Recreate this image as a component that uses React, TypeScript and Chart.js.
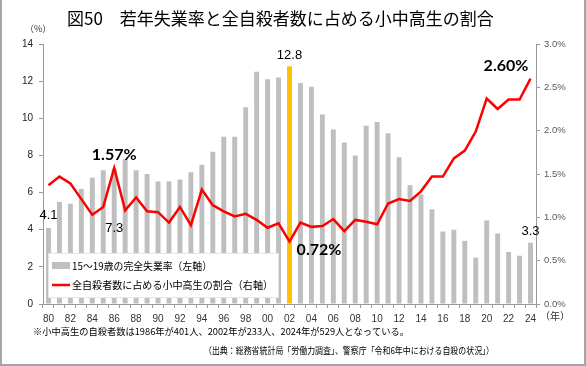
import React, { useEffect, useRef } from "react";
import { Chart, registerables } from "chart.js";
Chart.register(...registerables);

const years = [
  "80","81","82","83","84","85","86","87","88","89",
  "90","91","92","93","94","95","96","97","98","99",
  "00","01","02","03","04","05","06","07","08","09",
  "10","11","12","13","14","15","16","17","18","19",
  "20","21","22","23","24",
];

// 15～19歳の完全失業率（%）左軸
const unemployment = [
  4.1, 5.5, 5.4, 6.2, 6.8, 7.2, 7.3, 7.8, 7.2, 7.0,
  6.6, 6.6, 6.7, 7.1, 7.5, 8.2, 9.0, 9.0, 10.6, 12.5,
  12.1, 12.2, 12.8, 11.9, 11.7, 10.2, 9.4, 8.7, 8.0, 9.6,
  9.8, 9.2, 7.9, 6.4, 5.9, 5.1, 3.9, 4.0, 3.4, 2.5,
  4.5, 3.8, 2.8, 2.6, 3.3,
];

// 全自殺者数に占める小中高生の割合（%）右軸
const studentShare = [
  1.37, 1.47, 1.39, 1.21, 1.03, 1.12, 1.57, 1.08, 1.23, 1.07,
  1.06, 0.94, 1.12, 0.91, 1.32, 1.14, 1.07, 1.01, 1.04, 0.97,
  0.88, 0.93, 0.72, 0.94, 0.89, 0.90, 0.98, 0.84, 0.97, 0.95,
  0.92, 1.16, 1.21, 1.19, 1.30, 1.47, 1.47, 1.68, 1.77, 1.99,
  2.37, 2.25, 2.36, 2.36, 2.60,
];

const highlightIndex = 22; // 2002

const TITLE = "図50　若年失業率と全自殺者数に占める小中高生の割合";
const LEGEND_BAR = "15～19歳の完全失業率（左軸）";
const LEGEND_LINE = "全自殺者数に占める小中高生の割合（右軸）";
const NOTE1 = "※小中高生の自殺者数は1986年が401人、2002年が233人、2024年が529人となっている。";
const NOTE2 = "（出典：総務省統計局「労働力調査」、警察庁「令和6年中における自殺の状況」）";

const JP = '"Noto Sans CJK JP", sans-serif';
const NUM = '"Liberation Sans", Arial, sans-serif';
const BOLDNUM = 'Lato, "Liberation Sans", sans-serif';

const BAR_GRAY = "#BFBFBF";
const BAR_ORANGE = "#FFC000";
const LINE_RED = "#FF0000";

export default function App() {
  const ref = useRef<HTMLCanvasElement | null>(null);

  useEffect(() => {
    if (!ref.current) return;

    const overlay = {
      id: "overlay",
      beforeDraw(chart: any) {
        const c = chart.ctx;
        c.save();
        c.fillStyle = "#fff";
        c.fillRect(0, 0, chart.width, chart.height);
        c.restore();
      },
      afterDatasetsDraw(chart: any) {
        const c = chart.ctx;
        const xs = chart.scales.x;
        const yl = chart.scales.y;
        const yr = chart.scales.y1;
        c.save();

        // legend box
        c.fillStyle = "#fff";
        c.fillRect(48, 253, 230, 44);
        c.strokeStyle = "#e6e6e6";
        c.lineWidth = 1;
        c.strokeRect(48.5, 253.5, 230, 44);
        c.fillStyle = BAR_GRAY;
        c.fillRect(52, 262, 18, 7);
        c.strokeStyle = LINE_RED;
        c.lineWidth = 2.5;
        c.beginPath();
        c.moveTo(52, 285);
        c.lineTo(70, 285);
        c.stroke();
        c.fillStyle = "#000";
        c.font = `10.5px ${JP}`;
        c.textBaseline = "middle";
        c.textAlign = "left";
        c.fillText(LEGEND_BAR, 72, 266, 140);
        c.fillText(LEGEND_LINE, 72, 285, 201);

        // annotations
        c.textAlign = "center";
        c.font = `13px ${NUM}`;
        c.fillStyle = "#000";
        c.fillText(String(unemployment[0]), xs.getPixelForValue(0), yl.getPixelForValue(unemployment[0]) - 12);
        c.fillText(String(unemployment[6]), xs.getPixelForValue(6), 228);
        c.fillText(String(unemployment[22]), xs.getPixelForValue(22), 55);
        c.fillText(String(unemployment[44]), xs.getPixelForValue(44), 231);

        c.font = `bold 16px ${BOLDNUM}`;
        c.fillText(studentShare[6].toFixed(2) + "%", xs.getPixelForValue(6), yr.getPixelForValue(studentShare[6]) - 13);
        c.fillText(studentShare[22].toFixed(2) + "%", 319, 250);
        c.fillText(studentShare[44].toFixed(2) + "%", 506, 66);
        c.restore();
      },
      afterDraw(chart: any) {
        const c = chart.ctx;
        c.save();
        c.fillStyle = "#000";
        c.textBaseline = "middle";
        c.textAlign = "left";
        c.font = `17px ${JP}`;
        c.fillText(TITLE, 67, 19, 450);

        c.font = `9px ${JP}`;
        c.fillStyle = "#333";
        c.fillText("（%）", 25, 29);
        c.font = `10px ${JP}`;
        c.fillText("（年）", 540, 316);

        c.fillStyle = "#000";
        c.font = `9.5px ${JP}`;
        c.fillText(NOTE1, 33, 331, 376);
        c.textAlign = "right";
        c.fillText(NOTE2, 494, 350, 290);

        // frame
        c.strokeStyle = "#a6a6a6";
        c.lineWidth = 2;
        c.beginPath();
        c.moveTo(1, 0);
        c.lineTo(1, 365);
        c.lineTo(585, 365);
        c.lineTo(585, 0);
        c.stroke();
        c.restore();
      },
    };

    const chart = new Chart(ref.current, {
      type: "bar",
      data: {
        labels: years,
        datasets: [
          {
            type: "line",
            label: LEGEND_LINE,
            data: studentShare,
            yAxisID: "y1",
            borderColor: LINE_RED,
            backgroundColor: LINE_RED,
            borderWidth: 2.5,
            pointRadius: 0,
            tension: 0,
            order: 0,
          } as any,
          {
            type: "bar",
            label: LEGEND_BAR,
            data: unemployment,
            yAxisID: "y",
            backgroundColor: unemployment.map((_, i) => (i === highlightIndex ? BAR_ORANGE : BAR_GRAY)),
            barPercentage: 0.45,
            categoryPercentage: 1,
            order: 1,
          },
        ],
      },
      options: {
        responsive: false,
        animation: false,
        layout: { padding: { left: 8, right: 10, top: 44, bottom: 42 } },
        plugins: {
          legend: { display: false },
          tooltip: { enabled: false },
          title: { display: false },
        },
        scales: {
          x: {
            offset: true,
            grid: { display: true, drawOnChartArea: false, drawTicks: true, tickLength: 4, color: "#999", offset: true },
            border: { display: true, color: "#999" },
            ticks: {
              autoSkip: false,
              maxRotation: 0,
              minRotation: 0,
              padding: 5,
              color: "#333",
              font: { family: NUM, size: 10 },
              callback: (_v: any, i: number) => (i % 2 === 0 ? years[i] : ""),
            },
            afterFit: (s: any) => { s.height = 20; },
          },
          y: {
            position: "left",
            min: 0,
            max: 14,
            ticks: { stepSize: 2, color: "#222", padding: 6, font: { family: NUM, size: 10 } },
            grid: { drawOnChartArea: false, drawTicks: true, tickLength: 4, color: "#999" },
            border: { display: true, color: "#999" },
            afterFit: (s: any) => { s.width = 35; },
          },
          y1: {
            position: "right",
            min: 0,
            max: 3,
            ticks: {
              stepSize: 0.5,
              color: "#595959",
              padding: 4,
              font: { family: NUM, size: 9.5 },
              callback: (v: any) => Number(v).toFixed(1) + "%",
            },
            grid: { drawOnChartArea: false, drawTicks: true, tickLength: 4, color: "#999" },
            border: { display: true, color: "#999" },
            afterFit: (s: any) => { s.width = 40; },
          },
        },
      },
      plugins: [overlay],
    });

    return () => chart.destroy();
  }, []);

  return (
    <div style={{ position: "absolute", left: 0, top: 0, width: 586, height: 366 }}>
      <canvas ref={ref} width={586} height={366} style={{ width: 586, height: 366, display: "block" }} />
    </div>
  );
}
